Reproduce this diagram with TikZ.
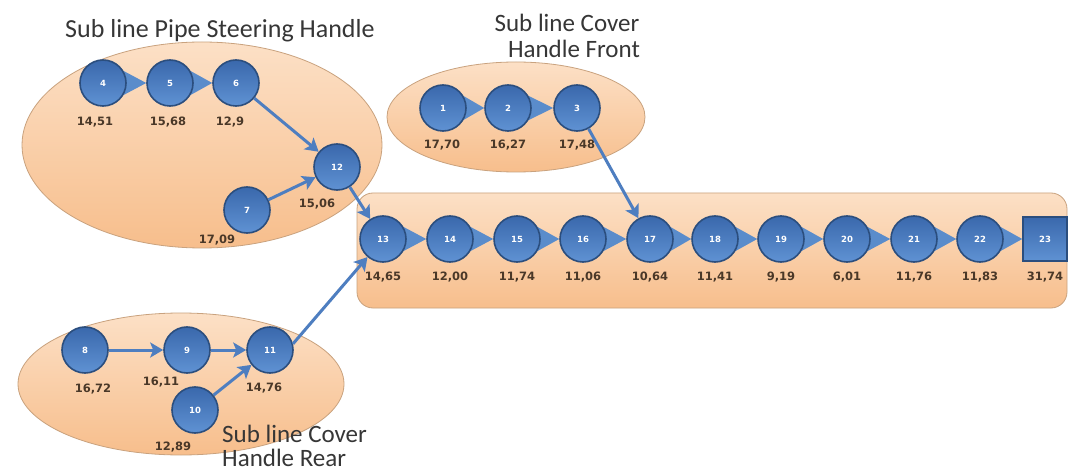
\documentclass[tikz,border=0pt]{standalone}
\usepackage{fontspec}
\setmainfont{Carlito}
\newfontfamily\numfont{DejaVu Sans}
\usetikzlibrary{arrows.meta,calc}

\definecolor{nodetop}{HTML}{3A68AC}
\definecolor{nodebot}{HTML}{5F92D3}
\definecolor{nodeline}{HTML}{2B4E7E}
\definecolor{arrowblue}{HTML}{4E7EC0}
\definecolor{chainblue}{HTML}{5A8CCB}
\definecolor{groupedge}{HTML}{C9A27E}
\definecolor{grouptop}{HTML}{FCE0C6}
\definecolor{groupbot}{HTML}{F7BE8C}
\definecolor{labeltext}{HTML}{4A3828}
\definecolor{titletext}{HTML}{363636}

\pgfdeclarelayer{groups}
\pgfdeclarelayer{links}
\pgfsetlayers{groups,links,main}

\tikzset{
  station/.style={circle, minimum size=46pt, inner sep=0pt, draw=nodeline,
    line width=1.6pt, top color=nodetop, bottom color=nodebot, text=white,
    font=\numfont\bfseries\fontsize{8.5}{9}\selectfont},
  endstation/.style={station, rectangle, minimum size=44pt},
  cycletime/.style={text=labeltext, font=\numfont\bfseries\fontsize{11.5}{12}\selectfont},
  flow/.style={draw=arrowblue, line width=3pt,
    -{Stealth[length=13pt,width=15pt,inset=3pt]}},
  group/.style={draw=groupedge, line width=0.8pt, top color=grouptop,
    bottom color=groupbot},
  grouptitle/.style={text=titletext, font=\fontsize{25}{26}\selectfont,
    inner sep=0pt},
}

% fat triangular link between two touching stations
\newcommand{\chainlink}[2]{%
  \fill[chainblue] ($(#1.east)+(-5,-13)$) -- (#2.west) -- ($(#1.east)+(-5,13)$) -- cycle;}

\begin{document}
\begin{tikzpicture}[x=1pt,y=-1pt]
\useasboundingbox (0,0) rectangle (1071,473);

% sub-line groups and the main line
\begin{pgfonlayer}{groups}
  \fill[white] (0,0) rectangle (1071,473);
  \path[group] (202,145) ellipse [x radius=180, y radius=103];
  \path[group] (516,117) ellipse [x radius=129, y radius=55];
  \path[group] (181,384) ellipse [x radius=163, y radius=71];
  \path[group, rounded corners=16pt] (357,193) rectangle (1067,308);
\end{pgfonlayer}

% group titles
\node[grouptitle, anchor=base west, font=\fontsize{26}{27}\selectfont] (titlePipe) at (65,38) {Sub line Pipe Steering Handle};
\node[grouptitle, anchor=base] (titleFrontA) at (567,32) {Sub line Cover};
\node[grouptitle, anchor=base] (titleFrontB) at (574,58) {Handle Front};
\node[grouptitle, anchor=base west] (titleRearA) at (222,442) {Sub line Cover};
\node[grouptitle, anchor=base west] (titleRearB) at (222,466) {Handle Rear};

% sub line pipe steering handle
\node[station] (n4) at (103,83) {4};
\node[station] (n5) at (170,83) {5};
\node[station] (n6) at (236,83) {6};
\node[station] (n7) at (247,210) {7};
\node[station] (n12) at (337,167) {12};
\node[cycletime] (t4) at (95,122) {14,51};
\node[cycletime] (t5) at (168,122) {15,68};
\node[cycletime] (t6) at (230,122) {12,9};
\node[cycletime] (t7) at (217,240) {17,09};
\node[cycletime] (t12) at (317,204) {15,06};

% sub line cover handle front
\node[station] (n1) at (443,108) {1};
\node[station] (n2) at (508,108) {2};
\node[station] (n3) at (577,108) {3};
\node[cycletime] (t1) at (442,145) {17,70};
\node[cycletime] (t2) at (508,145) {16,27};
\node[cycletime] (t3) at (577,145) {17,48};

% sub line cover handle rear
\node[station] (n8) at (85,350) {8};
\node[station] (n9) at (187,350) {9};
\node[station] (n11) at (270,350) {11};
\node[station] (n10) at (195,410) {10};
\node[cycletime] (t8) at (93,389) {16,72};
\node[cycletime] (t9) at (161,382) {16,11};
\node[cycletime] (t11) at (264,388) {14,76};
\node[cycletime] (t10) at (173,447) {12,89};

% main line
\foreach \k/\x/\v in {13/383/{14,65},14/450/{12,00},15/517/{11,74},16/583/{11,06},
  17/650/{10,64},18/715/{11,41},19/781/{9,19},20/847/{6,01},21/914/{11,76},22/980/{11,83}}{
  \node[station] (n\k) at (\x,239) {\k};
  \node[cycletime] (t\k) at (\x,277) {\v};
}
\node[endstation] (n23) at (1045,239) {23};
\node[cycletime] (t23) at (1045,277) {31,74};

% station-to-station links inside each line
\begin{pgfonlayer}{links}
  \chainlink{n4}{n5}
  \chainlink{n5}{n6}
  \chainlink{n1}{n2}
  \chainlink{n2}{n3}
  \foreach \a/\b in {13/14,14/15,15/16,16/17,17/18,18/19,19/20,20/21,21/22,22/23}{
    \chainlink{n\a}{n\b}
  }
\end{pgfonlayer}

% flows between lines
\draw[flow] (n6) -- (n12);
\draw[flow] (n7) -- (n12);
\draw[flow] (n12) -- (n13);
\draw[flow] (n3) -- (n17);
\draw[flow] (n11.15) -- (n13);
\draw[flow] (n8) -- (n9);
\draw[flow] (n9) -- (n11);
\draw[flow] (n10) -- (n11);
\end{tikzpicture}
\end{document}
